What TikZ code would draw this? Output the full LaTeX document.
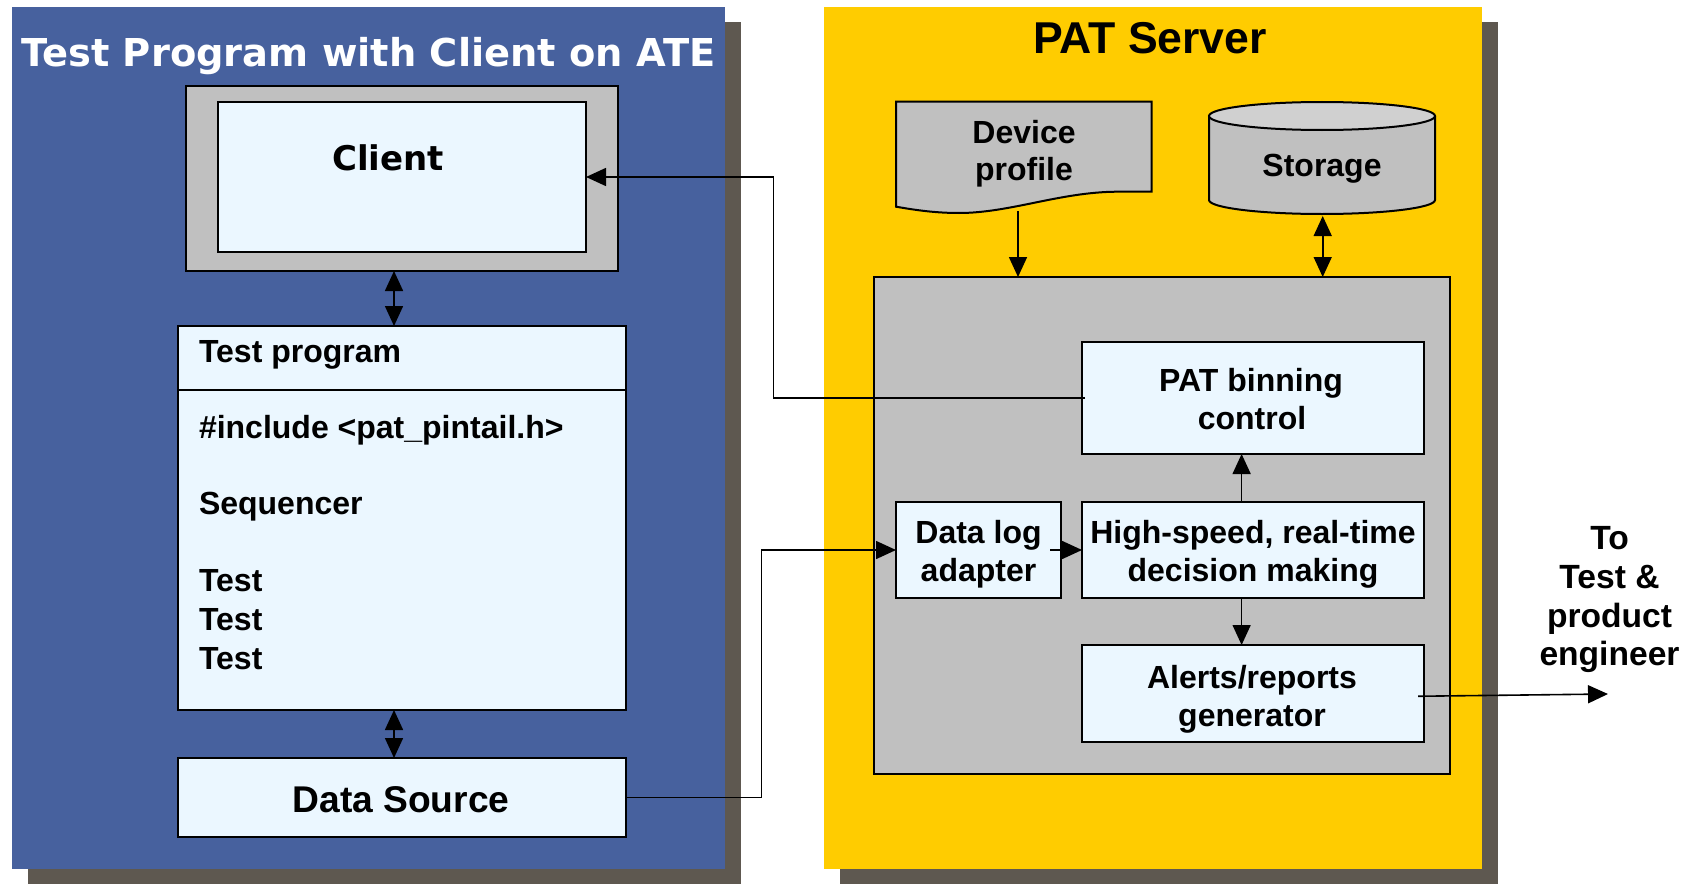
\documentclass[tikz,border=0pt]{standalone}
\usepackage{fontspec}
\setmainfont{Liberation Sans}
\newfontfamily\dvs{DejaVu Sans}
\usetikzlibrary{arrows.meta,calc}
\definecolor{panelblue}{RGB}{71,97,158}
\definecolor{shadowc}{RGB}{94,88,80}
\definecolor{paty}{RGB}{255,204,0}
\definecolor{boxgray}{RGB}{192,192,192}
\definecolor{toplight}{RGB}{208,208,208}
\definecolor{lightb}{RGB}{235,247,255}
\begin{document}
\begin{tikzpicture}[x=0.5pt,y=-0.5pt,
  panel/.style={rectangle,inner sep=0,outer sep=0,minimum width=356.5pt,minimum height=431pt},
  bx/.style={rectangle,draw=black,line width=1pt,inner sep=0,outer sep=0,fill=lightb},
  gbx/.style={rectangle,draw=black,line width=1pt,inner sep=0,outer sep=0,fill=boxgray},
  conn/.style={line width=0.8pt,draw=black},
  arr/.style={-{Triangle[length=10pt,width=9pt]}},
  darr/.style={{Triangle[length=10pt,width=9pt]}-{Triangle[length=10pt,width=9pt]}},
  ln/.style={anchor=base,inner sep=0,outer sep=0,font=\bfseries\fontsize{16}{18.5}\selectfont},
  lnw/.style={ln,anchor=base west},
]
\useasboundingbox[fill=white] (0,0) rectangle (1689,883);
% panels
\node[panel,fill=shadowc] (bshadow) at (384.5,453) {};
\node[panel,fill=panelblue] (bpanel) at (368.5,438) {};
\node[panel,minimum width=329pt,fill=shadowc] (yshadow) at (1169,453) {};
\node[panel,minimum width=329pt,fill=paty] (ypanel) at (1153,438) {};
% left side
\node[anchor=base,inner sep=0,text=white,font=\dvs\bfseries\fontsize{19.2}{22}\selectfont] (title) at (368.5,66.7) {Test Program with Client on ATE};
\node[gbx,minimum width=216pt,minimum height=92.5pt] (cout) at (402,178.5) {};
\node[bx,minimum width=184pt,minimum height=75pt] (cin) at (402,177) {};
\node[anchor=base,inner sep=0,font=\dvs\bfseries\fontsize{17}{20}\selectfont] (clientlbl) at (388,170) {Client};
\node[bx,minimum width=224pt,minimum height=192pt] (tp) at (402,518) {};
\draw[line width=1pt] (tp.west |- 0,390) -- (tp.east |- 0,390);
\node[lnw] (tptitle) at (199,362) {Test program};
\node[lnw] (tpinc) at (199,438.5) {\#include <pat\_pintail.h>};
\node[lnw] (tpseq) at (199,514.5) {Sequencer};
\node[lnw] (tpt1) at (199,591) {Test};
\node[lnw] (tpt2) at (199,630) {Test};
\node[lnw] (tpt3) at (199,669) {Test};
\node[bx,minimum width=224pt,minimum height=39.5pt] (ds) at (402,797.5) {};
\node[ln,font=\bfseries\fontsize{18.6}{21}\selectfont] (dstext) at (401,812) {Data Source};
\draw[conn,darr] ([xshift=-4pt]cout.south) -- ([xshift=-4pt]tp.north);
\draw[conn,darr] ([xshift=-4pt]tp.south) -- ([xshift=-4pt]ds.north);
% right side
\node[anchor=base,inner sep=0,font=\bfseries\fontsize{22.3}{25}\selectfont] (pattitle) at (1150,53.3) {PAT Server};
\draw[line width=1pt,fill=boxgray] (896,101.7) -- (1151.5,101.7) -- (1151.5,191.7) -- (1117,191.7)
  .. controls (1060,192) and (1010,213) .. (959,213)
  .. controls (935,213) and (915,210) .. (896,206.7) -- cycle;
\node[ln] (devp1) at (1024,143) {Device};
\node[ln] (devp2) at (1024,180) {profile};
\fill[boxgray] (1209,116) -- (1209,200) arc[start angle=180,end angle=360,x radius=56.5pt,y radius=7pt] -- (1435,116) -- cycle;
\draw[line width=1pt] (1209,116) -- (1209,200) arc[start angle=180,end angle=360,x radius=56.5pt,y radius=7pt] -- (1435,116);
\draw[line width=1pt,fill=toplight] (1322,116) ellipse [x radius=56.5pt,y radius=7pt];
\node[ln] (storage) at (1322,176.5) {Storage};
\node[gbx,minimum width=288pt,minimum height=248.25pt] (srv) at (1162,525.25) {};
\coordinate (devbot) at (1018,211);
\draw[conn,arr] (devbot) -- (devbot |- srv.north);
\coordinate (stobot) at (1322.7,216);
\draw[conn,darr] (stobot) -- (stobot |- srv.north);
\node[bx,minimum width=171pt,minimum height=56pt] (patb) at (1253,398) {};
\node[ln] (patb1) at (1251,391.8) {PAT binning};
\node[ln] (patb2) at (1252,429.4) {control};
\node[bx,minimum width=82.5pt,minimum height=48pt] (dla) at (978.5,550) {};
\node[ln] (dla1) at (978.5,543.9) {Data log};
\node[ln] (dla2) at (978.5,581.6) {adapter};
\node[bx,minimum width=171pt,minimum height=48pt] (hs) at (1253,550) {};
\node[ln] (hs1) at (1253,543.9) {High-speed, real-time};
\node[ln] (hs2) at (1253,581.6) {decision making};
\node[bx,minimum width=171pt,minimum height=48.25pt] (al) at (1253,693.25) {};
\node[ln] (al1) at (1252,688.9) {Alerts/reports};
\node[ln] (al2) at (1252,726) {generator};
\draw[conn,arr] ([xshift=-5.7pt]hs.north) -- ([xshift=-5.7pt]patb.south);
\draw[conn,arr] ([xshift=-5.7pt]hs.south) -- ([xshift=-5.7pt]al.north);
\draw[conn,arr] ([xshift=-5.5pt]dla.east) -- (hs.west);
% long connectors
\coordinate (j2) at (761.6,797.5);
\draw[conn,arr] (ds.east) -- (j2) |- (dla.west);
\coordinate (j1) at (773.4,398);
\draw[conn,arr] ([xshift=1.5pt]patb.west) -- (j1) |- (cin.east);
\coordinate (toend) at (1608,694);
\draw[conn,arr] ([xshift=-3pt,yshift=-1.5pt]al.east) -- (toend);
\node[ln,font=\bfseries\fontsize{16.8}{19}\selectfont] (to1) at (1609.5,549) {To};
\node[ln,font=\bfseries\fontsize{16.8}{19}\selectfont] (to2) at (1609.5,588.5) {Test \&};
\node[ln,font=\bfseries\fontsize{16.8}{19}\selectfont] (to3) at (1609.5,627) {product};
\node[ln,font=\bfseries\fontsize{16.8}{19}\selectfont] (to4) at (1609.5,665.5) {engineer};
\end{tikzpicture}
\end{document}
